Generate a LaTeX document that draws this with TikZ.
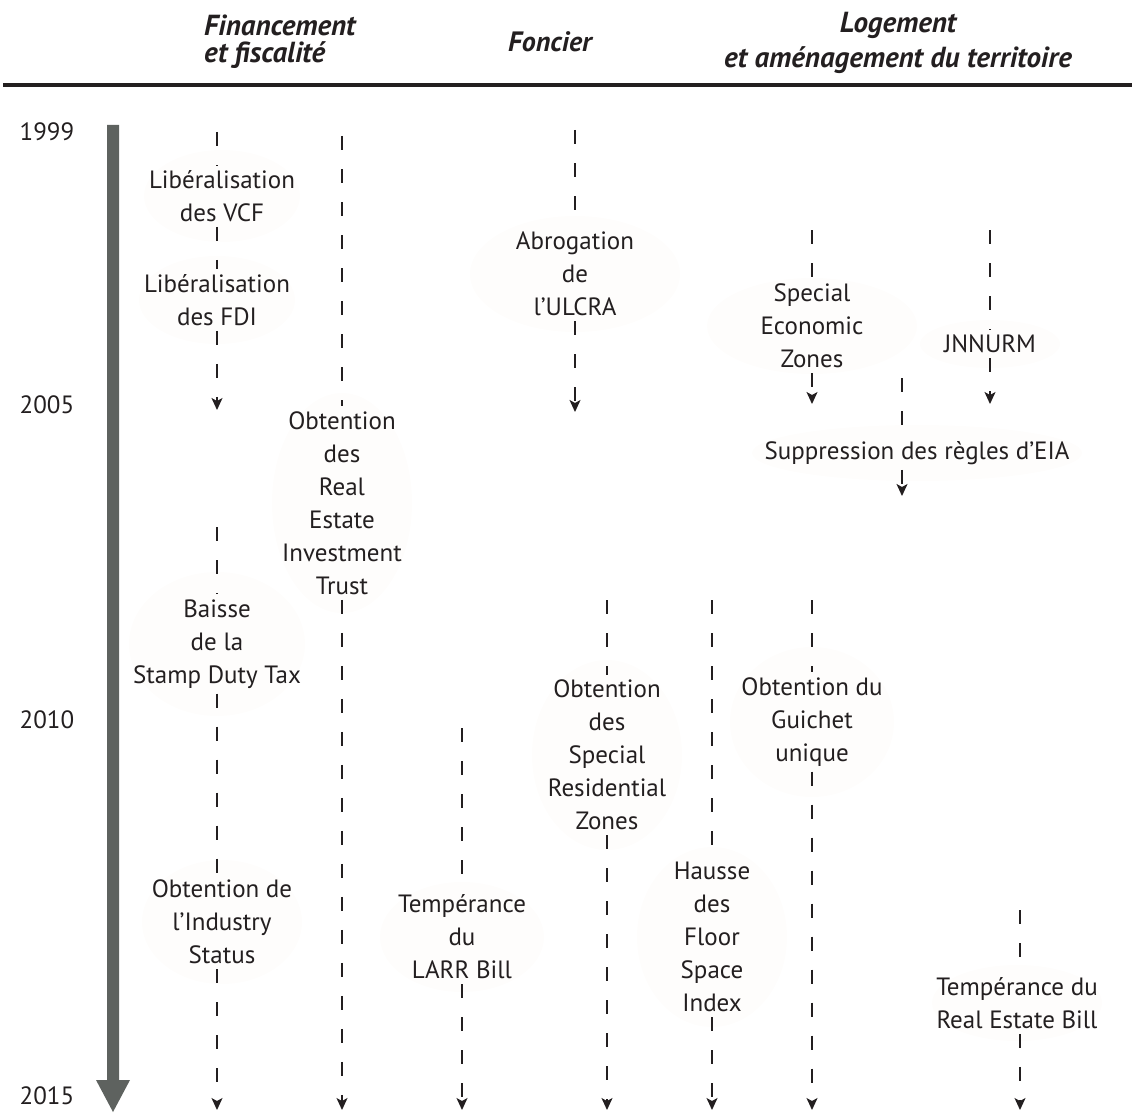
\documentclass[tikz,border=0pt]{standalone}
\usepackage{fontspec}
\setmainfont{PT Sans}
\usetikzlibrary{arrows.meta}
\definecolor{ink}{RGB}{35,31,32}
\definecolor{axiscol}{RGB}{94,98,95}
\definecolor{bubble}{RGB}{254,253,252}
\begin{document}
\begin{tikzpicture}[x=1pt,y=-1pt,
  event/.style={align=center, font=\fontsize{25}{33}\selectfont, text=ink, inner sep=5pt},
  year/.style={font=\fontsize{25}{29}\selectfont, text=ink, inner sep=0pt},
  head/.style={font=\fontsize{29}{27}\selectfont\bfseries\itshape, text=ink, inner sep=0pt},
  link/.style={draw=ink, line width=1.4pt, dash pattern=on 14pt off 19pt},
  linkarrow/.style={link, -{Stealth[length=12pt,width=11pt,inset=3pt]}},
  bg/.style={fill=bubble}
]
\useasboundingbox (0,0) rectangle (1132,1113);

% headers
\node[head, align=left, anchor=west, font=\fontsize{29}{27}\selectfont\bfseries\itshape] (hfin) at (204,42) {Financement\\et fiscalité};
\node[head, font=\fontsize{28}{27}\selectfont\bfseries\itshape] (hfon) at (550,42) {Foncier};
\node[head, align=center, font=\fontsize{29}{35}\selectfont\bfseries\itshape] (hlog) at (898,43) {Logement\\et aménagement du territoire};
\draw[ink, line width=4pt] (3,85) -- (1132,85);

% time axis
\fill[axiscol] (107,125) -- (119,125) -- (119,1080) -- (130,1080) -- (113,1112) -- (96,1080) -- (107,1080) -- cycle;
\node[year] (y1999) at (47,132) {1999};
\node[year] (y2005) at (47,405) {2005};
\node[year] (y2010) at (47,720) {2010};
\node[year] (y2015) at (47,1096) {2015};

% soft backgrounds
\fill[bg] (222,196) ellipse [x radius=78, y radius=46];
\fill[bg] (217,300) ellipse [x radius=78, y radius=44];
\fill[bg] (217,644) ellipse [x radius=88, y radius=72];
\fill[bg] (222,922) ellipse [x radius=80, y radius=62];
\fill[bg] (342,503) ellipse [x radius=70, y radius=110];
\fill[bg] (462,937) ellipse [x radius=82, y radius=55];
\fill[bg] (575,274) ellipse [x radius=105, y radius=58];
\fill[bg] (607,755) ellipse [x radius=75, y radius=95];
\fill[bg] (712,937) ellipse [x radius=75, y radius=90];
\fill[bg] (812,326) ellipse [x radius=105, y radius=48];
\fill[bg] (812,722) ellipse [x radius=82, y radius=75];
\fill[bg] (990,344) ellipse [x radius=70, y radius=24];
\fill[bg] (917,453) ellipse [x radius=165, y radius=28];
\fill[bg] (1017,1003) ellipse [x radius=85, y radius=38];

% events
\node[event] (vcf) at (222,196) {Libéralisation\\des VCF};
\node[event] (fdi) at (217,300) {Libéralisation\\des FDI};
\node[event] (stamp) at (217,644) {Baisse\\de la\\Stamp Duty Tax};
\node[event] (ind) at (222,922) {Obtention de\\l’Industry\\Status};
\node[event] (reit) at (342,503) {Obtention\\des\\Real\\Estate\\Investment\\Trust};
\node[event] (larr) at (462,937) {Tempérance\\du\\LARR Bill};
\node[event] (ulcra) at (575,274) {Abrogation\\de\\l’ULCRA};
\node[event] (srz) at (607,755) {Obtention\\des\\Special\\Residential\\Zones};
\node[event] (fsi) at (712,937) {Hausse\\des\\Floor\\Space\\Index};
\node[event] (sez) at (812,326) {Special\\Economic\\Zones};
\node[event] (gu) at (812,722) {Obtention du\\Guichet\\unique};
\node[event] (jn) at (990,344) {JNNURM};
\node[event] (eia) at (917,453) {Suppression des règles d’EIA};
\node[event] (reb) at (1017,1003) {Tempérance du\\Real Estate Bill};

% column coordinates
\coordinate (a0) at (217,132);
\coordinate (a1) at (217,410);
\coordinate (a2) at (217,527);
\coordinate (a3) at (217,1110);
\coordinate (b0) at (342,136);
\coordinate (b1) at (342,1110);
\coordinate (c0) at (462,728);
\coordinate (c1) at (462,1110);
\coordinate (d0) at (575,130);
\coordinate (d1) at (575,412);
\coordinate (e0) at (607,600);
\coordinate (e1) at (607,1110);
\coordinate (f0) at (712,600);
\coordinate (f1) at (712,1110);
\coordinate (g0) at (812,230);
\coordinate (g1) at (812,404);
\coordinate (g2) at (812,600);
\coordinate (g3) at (812,1110);
\coordinate (h0) at (990,230);
\coordinate (h1) at (990,404);
\coordinate (i0) at (902,378);
\coordinate (i1) at (902,496);
\coordinate (j0) at (1020,910);
\coordinate (j1) at (1020,1110);

% connectors
\draw[link] (a0) -- (a0 |- vcf.north);
\draw[link] (vcf.south -| a0) -- (fdi.north -| a0);
\draw[linkarrow] (fdi.south -| a0) -- (a1);
\draw[link] (a2) -- (a2 |- stamp.north);
\draw[link] (stamp.south -| a2) -- (ind.north -| a2);
\draw[linkarrow] (ind.south -| a2) -- (a3);

\draw[link] (b0) -- (b0 |- reit.north);
\draw[linkarrow] (reit.south -| b0) -- (b1);

\draw[link] (c0) -- (c0 |- larr.north);
\draw[linkarrow] (larr.south -| c0) -- (c1);

\draw[link] (d0) -- (d0 |- ulcra.north);
\draw[linkarrow] (ulcra.south -| d0) -- (d1);

\draw[link] (e0) -- (e0 |- srz.north);
\draw[linkarrow] (srz.south -| e0) -- (e1);

\draw[link] (f0) -- (f0 |- fsi.north);
\draw[linkarrow] (fsi.south -| f0) -- (f1);

\draw[link] (g0) -- (g0 |- sez.north);
\draw[linkarrow] (sez.south -| g0) -- (g1);
\draw[link] (g2) -- (g2 |- gu.north);
\draw[linkarrow] (gu.south -| g2) -- (g3);

\draw[link] (h0) -- (h0 |- jn.north);
\draw[linkarrow] (jn.south -| h0) -- (h1);

\draw[link] (i0) -- (i0 |- eia.north);
\draw[linkarrow] (eia.south -| i0) -- (i1);

\draw[link] (j0) -- (j0 |- reb.north);
\draw[linkarrow] (reb.south -| j0) -- (j1);
\end{tikzpicture}
\end{document}
